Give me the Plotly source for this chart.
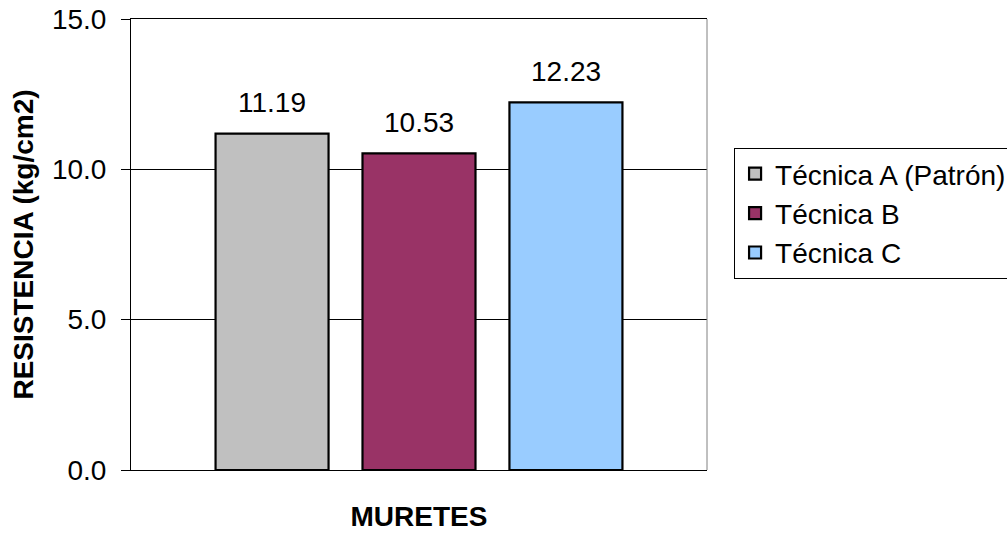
import plotly.graph_objects as go

series = ["Técnica A (Patrón)", "Técnica B", "Técnica C"]
values = [11.19, 10.53, 12.23]
colors = ["#C0C0C0", "#993366", "#99CCFF"]
y_ticks = [0, 5, 10, 15]
y_tick_labels = ["0.0", "5.0", "10.0", "15.0"]
x_title = "MURETES"
y_title = "RESISTENCIA (kg/cm2)"

FONT = "Liberation Sans, Arial, sans-serif"
FS = 28

fig = go.Figure()
for name, v, c in zip(series, values, colors):
    fig.add_trace(go.Bar(
        x=[name], y=[v], name=name, width=0.769,
        marker=dict(color=c, line=dict(color="#000000", width=2.2)),
    ))

for name, v in zip(series, values):
    fig.add_annotation(
        x=name, y=v, text=f"{v:.2f}", showarrow=False,
        yanchor="middle", xanchor="center", yshift=31,
        font=dict(family=FONT, size=FS, color="#000000"),
    )

# gray right border of plot area
fig.add_shape(type="line", xref="x domain", yref="y domain",
              x0=1, x1=1, y0=0, y1=1, line=dict(color="#808080", width=1))

fig.update_layout(
    width=1007, height=535,
    margin=dict(l=131, r=300, t=19, b=65, autoexpand=False),
    paper_bgcolor="white", plot_bgcolor="white",
    barmode="overlay",
    font=dict(family=FONT, size=FS, color="#000000"),
    showlegend=True,
    legend=dict(
        x=1.047, xanchor="left", y=0.714, yanchor="top",
        bgcolor="white", bordercolor="#000000", borderwidth=1,
        font=dict(family=FONT, size=FS, color="#000000"),
        itemclick=False,
    ),
)

fig.update_xaxes(
    type="category", range=[-0.96, 2.96],
    showticklabels=False, ticks="",
    showline=True, linecolor="#000000", linewidth=1, mirror=True,
    showgrid=False, zeroline=False, automargin=False,
    title=dict(text=f"<b>{x_title}</b>", font=dict(family=FONT, size=FS), standoff=36),
)

fig.update_yaxes(
    range=[0, 15], tickvals=y_ticks, ticktext=y_tick_labels,
    ticks="outside", ticklen=9, tickcolor="#000000", tickwidth=1,
    ticklabelstandoff=9,
    showline=True, linecolor="#000000", linewidth=1,
    showgrid=True, gridcolor="#000000", gridwidth=1,
    zeroline=False, automargin=False,
    tickfont=dict(family=FONT, size=FS),
    title=dict(text=f"<b>{y_title}</b>", font=dict(family=FONT, size=FS), standoff=10),
)

fig.write_html("out.html")
